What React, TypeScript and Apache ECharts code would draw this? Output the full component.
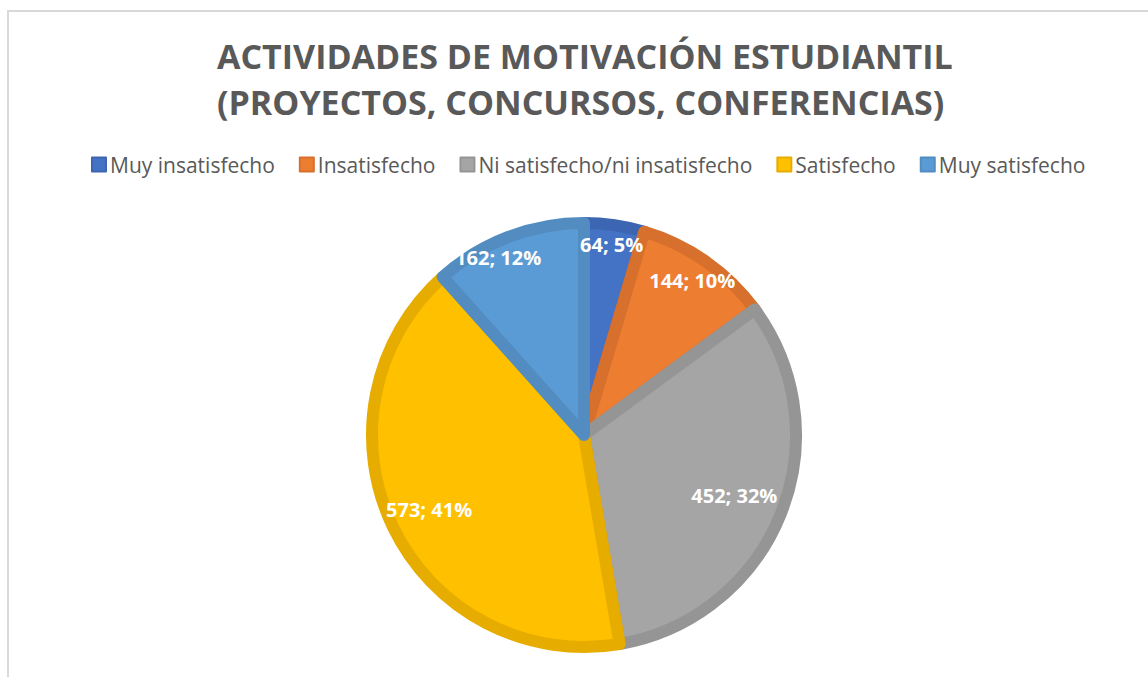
import React, { useEffect, useRef } from "react";
import * as echarts from "echarts";

const titleLines = ["ACTIVIDADES DE MOTIVACIÓN ESTUDIANTIL", "(PROYECTOS, CONCURSOS, CONFERENCIAS)"];
const categories = ["Muy insatisfecho", "Insatisfecho", "Ni satisfecho/ni insatisfecho", "Satisfecho", "Muy satisfecho"];
const values = [64, 144, 452, 573, 162];
const percents = ["5%", "10%", "32%", "41%", "12%"];
const fillColors = ["#4472C4", "#ED7D31", "#A5A5A5", "#FFC000", "#5B9BD5"];
const borderColors = ["#3C66B2", "#D6702C", "#959595", "#E6AD00", "#528CC1"];
const labelRadius = [0.87, 0.85, 0.73, 0.775, 0.89];
const labelAngleShift = [0, 0, 0, 0, -5];

const RADIUS = 212;
const BORDER = 12;

export default function App() {
  const ref = useRef<HTMLDivElement>(null);
  useEffect(() => {
    if (!ref.current) return;
    const chart = echarts.init(ref.current, undefined, { renderer: "svg" });
    const total = values.reduce((a, b) => a + b, 0);
    const midAngles: number[] = [];
    let acc = 0;
    values.forEach((v, i) => {
      midAngles.push(((acc + v / 2) / total) * Math.PI * 2 + (labelAngleShift[i] * Math.PI) / 180);
      acc += v;
    });
    chart.setOption({
      animation: false,
      backgroundColor: "#ffffff",
      title: {
        text: titleLines.join("\n"),
        left: 212,
        top: 28,
        textAlign: "left",
        textStyle: {
          fontFamily: "Open Sans",
          fontWeight: "bold",
          fontSize: 34,
          color: "#595959",
          lineHeight: 46,
          align: "center",
        },
      },
      legend: {
        data: categories,
        top: 149,
        left: 86,
        icon: "rect",
        itemWidth: 14,
        itemHeight: 14,
        itemGap: 24,
        textStyle: { fontFamily: "Open Sans", fontSize: 21, color: "#595959", padding: [0, 0, 0, -1] },
      },
      graphic: [
        {
          type: "rect",
          shape: { x: 8, y: 11, width: 1300, height: 900 },
          style: { fill: "none", stroke: "#d9d9d9", lineWidth: 2 },
          silent: true,
        },
      ],
      series: [
        {
          type: "pie",
          center: [584, 435],
          radius: [0, RADIUS],
          startAngle: 90,
          clockwise: true,
          data: categories.map((c, i) => ({
            name: c,
            value: values[i],
            itemStyle: { color: fillColors[i], borderColor: borderColors[i], borderWidth: BORDER },
          })),
          label: {
            show: true,
            position: "inside",
            formatter: (p: any) => `${p.value}; ${percents[p.dataIndex]}`,
            color: "#ffffff",
            fontFamily: "Open Sans",
            fontWeight: "bold",
            fontSize: 20,
          },
          labelLine: { show: false },
          labelLayout: (p: any) => {
            const i = p.dataIndex;
            const total0 = values.slice(0, i).reduce((a, b) => a + b, 0);
            const baseMid = ((total0 + values[i] / 2) / total) * Math.PI * 2;
            const target = labelRadius[i] * (RADIUS + BORDER / 2);
            const tx = Math.sin(midAngles[i]) * target - Math.sin(baseMid) * (RADIUS / 2);
            const ty = -Math.cos(midAngles[i]) * target + Math.cos(baseMid) * (RADIUS / 2);
            return { dx: tx, dy: ty };
          },
          emphasis: { disabled: true },
        },
      ],
    });
    return () => chart.dispose();
  }, []);
  return <div ref={ref} style={{ position: "fixed", left: 0, top: 0, width: 1148, height: 677 }} />;
}
